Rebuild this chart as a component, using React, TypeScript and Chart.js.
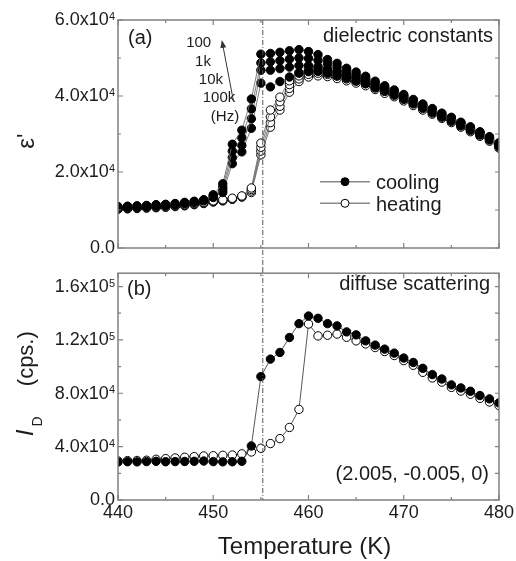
import React, { useEffect, useRef } from 'react';
import { Chart, registerables } from 'chart.js';

Chart.register(...registerables);

// ---------- data ----------
const temperatures = [440, 441, 442, 443, 444, 445, 446, 447, 448, 449, 450, 451, 452, 453, 454, 455, 456, 457, 458, 459, 460, 461, 462, 463, 464, 465, 466, 467, 468, 469, 470, 471, 472, 473, 474, 475, 476, 477, 478, 479, 480];

// dielectric constant, cooling (filled)
const epsCooling100Hz = [10900, 11000, 11100, 11200, 11400, 11500, 11700, 12000, 12300, 12700, 14000, 16900, 27300, 31000, 39200, 51000, 51200, 51500, 51900, 52200, 51700, 50900, 49600, 48600, 47300, 46300, 45200, 43900, 42700, 41600, 40400, 39100, 37900, 36700, 35500, 34400, 33100, 31900, 30600, 29300, 27700];
const epsCooling1kHz = [10800, 10900, 11000, 11100, 11300, 11400, 11600, 11900, 12200, 12600, 13700, 16000, 25500, 29000, 36600, 48700, 49000, 49300, 49700, 50000, 49900, 49400, 48500, 47600, 46500, 45600, 44700, 43400, 42300, 41200, 40100, 38800, 37600, 36400, 35200, 34100, 32900, 31700, 30400, 29100, 27400];
const epsCooling10kHz = [10700, 10800, 10900, 11000, 11200, 11300, 11500, 11800, 12100, 12500, 13500, 15300, 23800, 27000, 34000, 46800, 46800, 47200, 47600, 48000, 48000, 47800, 47200, 46500, 45600, 44900, 44100, 42900, 41900, 40800, 39700, 38500, 37300, 36100, 34900, 33800, 32600, 31400, 30200, 28900, 27100];
const epsCooling100kHz = [10600, 10700, 10800, 10900, 11100, 11200, 11400, 11700, 12000, 12400, 13300, 14600, 22200, 25300, 31500, 43400, 42400, 43800, 45000, 46000, 46500, 46500, 46000, 45400, 44700, 44000, 43300, 42200, 41300, 40300, 39200, 38100, 36900, 35700, 34600, 33500, 32300, 31100, 29900, 28600, 26800];

// dielectric constant, heating (open)
const epsHeating100Hz = [10500, 10600, 10700, 10800, 10900, 11000, 11200, 11400, 11700, 12000, 12400, 12700, 13100, 13700, 15800, 27600, 36300, 39700, 44000, 46200, 47200, 47300, 46900, 46400, 45700, 45000, 44200, 43100, 42100, 41000, 39900, 38600, 37400, 36200, 35000, 33900, 32700, 31500, 30200, 28900, 27200];
const epsHeating1kHz = [10400, 10500, 10600, 10700, 10800, 10900, 11100, 11300, 11600, 11900, 12300, 12600, 13000, 13600, 15400, 26500, 34500, 38500, 43000, 45300, 46400, 46600, 46300, 45800, 45100, 44400, 43700, 42600, 41600, 40600, 39500, 38200, 37000, 35900, 34700, 33600, 32400, 31200, 29900, 28600, 26900];
const epsHeating10kHz = [10300, 10400, 10500, 10600, 10700, 10800, 11000, 11200, 11500, 11800, 12200, 12500, 12900, 13500, 15000, 25500, 33000, 37300, 42000, 44500, 45700, 46000, 45700, 45200, 44500, 43900, 43200, 42100, 41200, 40200, 39100, 37900, 36700, 35500, 34400, 33300, 32100, 30900, 29700, 28400, 26600];
const epsHeating100kHz = [10200, 10300, 10400, 10500, 10600, 10700, 10900, 11100, 11400, 11700, 12100, 12400, 12800, 13400, 14600, 24500, 31800, 36300, 41000, 43800, 45000, 45300, 45100, 44600, 44000, 43400, 42700, 41700, 40700, 39800, 38700, 37500, 36300, 35200, 34100, 33000, 31800, 30600, 29400, 28100, 26300];

// diffuse scattering intensity (cps.)
const idCooling = [28500, 28700, 28600, 28800, 29000, 28700, 28800, 28900, 29000, 29200, 28800, 28600, 28700, 29000, 40500, 92500, 105600, 110600, 121800, 132200, 137900, 136200, 132200, 130500, 126000, 123800, 119300, 116100, 113100, 110100, 106400, 103100, 98700, 94000, 90700, 86300, 84000, 81500, 78300, 75800, 72800];
const idHeating = [29300, 29500, 29600, 29800, 30500, 31000, 31500, 32000, 32500, 33000, 33200, 33500, 33700, 34600, 36000, 38800, 42300, 46000, 54400, 67900, 131900, 123000, 123500, 124400, 122000, 119300, 117000, 114300, 111300, 108300, 104500, 101000, 95700, 91500, 88400, 84400, 81700, 79300, 76200, 73500, 70800];

const transitionTemperature = 455.2;

// ticks
const xTickValues = [440, 450, 460, 470, 480];
const xTickLabels = ['440', '450', '460', '470', '480'];
const epsTickValues = [0, 20000, 40000, 60000];
const epsTickMantissa = ['0.0', '2.0x10', '4.0x10', '6.0x10'];
const epsTickExponent = ['', '4', '4', '4'];
const idTickValues = [0, 40000, 80000, 120000, 160000];
const idTickMantissa = ['0.0', '4.0x10', '8.0x10', '1.2x10', '1.6x10'];
const idTickExponent = ['', '4', '4', '5', '5'];

const frequencyLabels = ['100', '1k', '10k', '100k', '(Hz)'];
const frequencyLabelT = [448.47, 448.92, 449.76, 450.6, 451.23];
const frequencyLabelEps = [54000, 48950, 44200, 39400, 34560];

// ---------- styling ----------
const FONT = '"Liberation Sans", Arial, Helvetica, sans-serif';
const AXIS = '#808080';
const INK = '#1c1c1c';

function pts(ys: number[]) {
  return temperatures.map((t, i) => ({ x: t, y: ys[i] }));
}

function drawAxesAndTicks(chart: any, spec: any) {
  const { ctx, chartArea: a, scales } = chart;
  const xs = scales.x;
  const ys = scales.y;
  ctx.save();
  // transition dash-dot line
  const tx = xs.getPixelForValue(transitionTemperature);
  ctx.strokeStyle = '#555';
  ctx.lineWidth = 1;
  ctx.setLineDash([5, 2, 1, 2]);
  ctx.beginPath();
  ctx.moveTo(tx, spec.lineFromCanvasTop ? 0 : a.top);
  ctx.lineTo(tx, spec.lineToCanvasBottom ? chart.height : a.bottom);
  ctx.stroke();
  ctx.setLineDash([]);

  // frame
  ctx.strokeStyle = AXIS;
  ctx.lineWidth = 1.5;
  ctx.strokeRect(a.left, a.top, a.right - a.left, a.bottom - a.top);

  // ticks (inward)
  ctx.lineWidth = 1.2;
  ctx.beginPath();
  for (let v = xs.min; v <= xs.max + 1e-6; v += spec.xMinorStep) {
    const major = xTickValues.includes(v);
    const L = major ? 5 : 3;
    const x = xs.getPixelForValue(v);
    ctx.moveTo(x, a.bottom);
    ctx.lineTo(x, a.bottom - L);
    ctx.moveTo(x, a.top);
    ctx.lineTo(x, a.top + L);
  }
  for (let v = 0; v <= ys.max + 1e-6; v += spec.yMinorStep) {
    const major = spec.yTicks.includes(v);
    const L = major ? 5 : 3;
    const y = ys.getPixelForValue(v);
    ctx.moveTo(a.left, y);
    ctx.lineTo(a.left + L, y);
  }
  for (let v = 0; v <= ys.max + 1e-6; v += spec.rightStep) {
    const y = ys.getPixelForValue(v);
    ctx.moveTo(a.right, y);
    ctx.lineTo(a.right - 4, y);
  }
  ctx.stroke();

  // y tick labels with superscript exponent
  ctx.fillStyle = INK;
  const xRight = a.left - 3;
  spec.yTicks.forEach((v: number, i: number) => {
    const y = ys.getPixelForValue(v);
    const exp = spec.yExponent[i];
    ctx.font = `11px ${FONT}`;
    const ew = exp ? ctx.measureText(exp).width : 0;
    if (exp) {
      ctx.textAlign = 'right';
      ctx.textBaseline = 'alphabetic';
      ctx.fillText(exp, xRight, y);
    }
    ctx.font = `18px ${FONT}`;
    ctx.textAlign = 'right';
    ctx.textBaseline = 'middle';
    ctx.fillText(spec.yMantissa[i], xRight - ew, y + 0.5);
  });

  // x tick labels
  if (spec.showXLabels) {
    ctx.font = `18px ${FONT}`;
    ctx.textAlign = 'center';
    ctx.textBaseline = 'middle';
    xTickValues.forEach((v, i) => {
      ctx.fillText(xTickLabels[i], xs.getPixelForValue(v), a.bottom + 13.5);
    });
    ctx.font = `24px ${FONT}`;
    ctx.fillText('Temperature (K)', (a.left + a.right) / 2 - 4, a.bottom + 47);
  }
  ctx.restore();
}

const topPlugin = {
  id: 'topPanel',
  afterDatasetsDraw(chart: any) {
    drawAxesAndTicks(chart, {
      lineFromCanvasTop: false,
      lineToCanvasBottom: true,
      xMinorStep: 5,
      yMinorStep: 10000,
      rightStep: 10000,
      yTicks: epsTickValues,
      yMantissa: epsTickMantissa,
      yExponent: epsTickExponent,
      showXLabels: false,
    });
    const { ctx, chartArea: a, scales } = chart;
    const xs = scales.x;
    const ys = scales.y;
    ctx.save();
    ctx.fillStyle = INK;
    ctx.font = `20px ${FONT}`;
    ctx.textBaseline = 'alphabetic';
    ctx.textAlign = 'left';
    ctx.fillText('(a)', a.left + 10, a.top + 23.5);
    ctx.textAlign = 'right';
    ctx.fillText('dielectric constants', a.right - 6, a.top + 21.5);

    // frequency labels
    ctx.font = `15px ${FONT}`;
    ctx.textAlign = 'center';
    ctx.textBaseline = 'middle';
    frequencyLabels.forEach((s, i) => {
      ctx.fillText(s, xs.getPixelForValue(frequencyLabelT[i]), ys.getPixelForValue(frequencyLabelEps[i]));
    });
    // arrow
    const x0 = xs.getPixelForValue(452.1), y0 = ys.getPixelForValue(38950);
    const x1 = xs.getPixelForValue(450.9), y1 = ys.getPixelForValue(54750);
    const ang = Math.atan2(y1 - y0, x1 - x0);
    ctx.strokeStyle = '#333';
    ctx.fillStyle = '#333';
    ctx.lineWidth = 1;
    ctx.beginPath();
    ctx.moveTo(x0, y0);
    ctx.lineTo(x1 - 6 * Math.cos(ang), y1 - 6 * Math.sin(ang));
    ctx.stroke();
    ctx.beginPath();
    ctx.moveTo(x1, y1);
    ctx.lineTo(x1 - 8 * Math.cos(ang) + 3 * Math.sin(ang), y1 - 8 * Math.sin(ang) - 3 * Math.cos(ang));
    ctx.lineTo(x1 - 8 * Math.cos(ang) - 3 * Math.sin(ang), y1 - 8 * Math.sin(ang) + 3 * Math.cos(ang));
    ctx.closePath();
    ctx.fill();

    // legend
    const legend = [
      { label: 'cooling', fill: '#000', ly: a.top + 161.7, ty: a.top + 168.5 },
      { label: 'heating', fill: '#fff', ly: a.top + 183.3, ty: a.top + 191 },
    ];
    legend.forEach((e) => {
      ctx.strokeStyle = '#8a8a8a';
      ctx.lineWidth = 1.5;
      ctx.beginPath();
      ctx.moveTo(a.left + 202, e.ly);
      ctx.lineTo(a.left + 252, e.ly);
      ctx.stroke();
      ctx.beginPath();
      ctx.arc(a.left + 227, e.ly, 4, 0, Math.PI * 2);
      ctx.fillStyle = e.fill;
      ctx.fill();
      ctx.strokeStyle = '#000';
      ctx.lineWidth = 1;
      ctx.stroke();
      ctx.fillStyle = INK;
      ctx.font = `20px ${FONT}`;
      ctx.textAlign = 'left';
      ctx.textBaseline = 'alphabetic';
      ctx.fillText(e.label, a.left + 258, e.ty);
    });

    // y title
    ctx.save();
    ctx.translate(34, a.top + 121);
    ctx.rotate(-Math.PI / 2);
    ctx.font = `24px ${FONT}`;
    ctx.textAlign = 'center';
    ctx.textBaseline = 'alphabetic';
    ctx.fillStyle = INK;
    ctx.fillText("\u03B5'", 0, 0);
    ctx.restore();
    ctx.restore();
  },
};

const bottomPlugin = {
  id: 'bottomPanel',
  afterDatasetsDraw(chart: any) {
    drawAxesAndTicks(chart, {
      lineFromCanvasTop: true,
      lineToCanvasBottom: false,
      xMinorStep: 5,
      yMinorStep: 20000,
      rightStep: 20000,
      yTicks: idTickValues,
      yMantissa: idTickMantissa,
      yExponent: idTickExponent,
      showXLabels: true,
    });
    const { ctx, chartArea: a } = chart;
    ctx.save();
    ctx.fillStyle = INK;
    ctx.font = `20px ${FONT}`;
    ctx.textBaseline = 'alphabetic';
    ctx.textAlign = 'left';
    ctx.fillText('(b)', a.left + 9, a.top + 22);
    ctx.textAlign = 'right';
    ctx.fillText('diffuse scattering', a.right - 9, a.top + 17);
    ctx.fillText('(2.005, -0.005, 0)', a.right - 10, a.bottom - 20);

    // y title: I_D (cps.)
    ctx.save();
    ctx.translate(33, a.top + 163);
    ctx.rotate(-Math.PI / 2);
    ctx.textAlign = 'left';
    ctx.textBaseline = 'alphabetic';
    ctx.font = `italic 24px ${FONT}`;
    ctx.fillText('I', 0, 0);
    const iw = ctx.measureText('I').width;
    ctx.font = `14px ${FONT}`;
    ctx.fillText('D', iw + 3, 9);
    ctx.font = `22px ${FONT}`;
    ctx.fillText('(cps.)', 50, 0);
    ctx.restore();
    ctx.restore();
  },
};

function lineDataset(label: string, ys: number[], filled: boolean, lineColor: string) {
  return {
    label,
    data: pts(ys),
    showLine: true,
    borderColor: lineColor,
    borderWidth: 0.9,
    pointRadius: 4.2,
    pointBorderWidth: 1,
    pointBackgroundColor: filled ? '#000' : '#fff',
    pointBorderColor: '#000',
    tension: 0,
  };
}

function baseOptions(yMax: number, padding: any) {
  return {
    responsive: false,
    animation: false as const,
    devicePixelRatio: 1,
    events: [] as any[],
    layout: { padding },
    plugins: { legend: { display: false }, tooltip: { enabled: false } },
    scales: {
      x: { type: 'linear' as const, min: 440, max: 480, display: false },
      y: { type: 'linear' as const, min: 0, max: yMax, display: false },
    },
  };
}

export default function App() {
  const topRef = useRef<HTMLCanvasElement | null>(null);
  const bottomRef = useRef<HTMLCanvasElement | null>(null);

  useEffect(() => {
    const grey = '#6e6e6e';
    const top = new Chart(topRef.current as HTMLCanvasElement, {
      type: 'line',
      data: {
        datasets: [
          lineDataset('cooling 100 Hz', epsCooling100Hz, true, grey),
          lineDataset('cooling 1 kHz', epsCooling1kHz, true, grey),
          lineDataset('cooling 10 kHz', epsCooling10kHz, true, grey),
          lineDataset('cooling 100 kHz', epsCooling100kHz, true, grey),
          lineDataset('heating 100 Hz', epsHeating100Hz, false, grey),
          lineDataset('heating 1 kHz', epsHeating1kHz, false, grey),
          lineDataset('heating 10 kHz', epsHeating10kHz, false, grey),
          lineDataset('heating 100 kHz', epsHeating100kHz, false, grey),
        ],
      },
      options: baseOptions(60000, { left: 118, right: 17, top: 20, bottom: 20 }) as any,
      plugins: [topPlugin],
    });
    const bottom = new Chart(bottomRef.current as HTMLCanvasElement, {
      type: 'line',
      data: {
        datasets: [
          lineDataset('cooling', idCooling, true, '#444'),
          lineDataset('heating', idHeating, false, '#444'),
        ],
      },
      options: baseOptions(170000, { left: 118, right: 17, top: 4, bottom: 61 }) as any,
      plugins: [bottomPlugin],
    });
    return () => {
      top.destroy();
      bottom.destroy();
    };
  }, []);

  return (
    <div style={{ position: 'absolute', left: 0, top: 0, width: 516, height: 561, background: '#fff' }}>
      <div style={{ position: 'absolute', left: 0, top: 0, width: 516, height: 268 }}>
        <canvas ref={topRef} width={516} height={268} style={{ display: 'block' }} />
      </div>
      <div style={{ position: 'absolute', left: 0, top: 268, width: 516, height: 293 }}>
        <canvas ref={bottomRef} width={516} height={293} style={{ display: 'block' }} />
      </div>
    </div>
  );
}
